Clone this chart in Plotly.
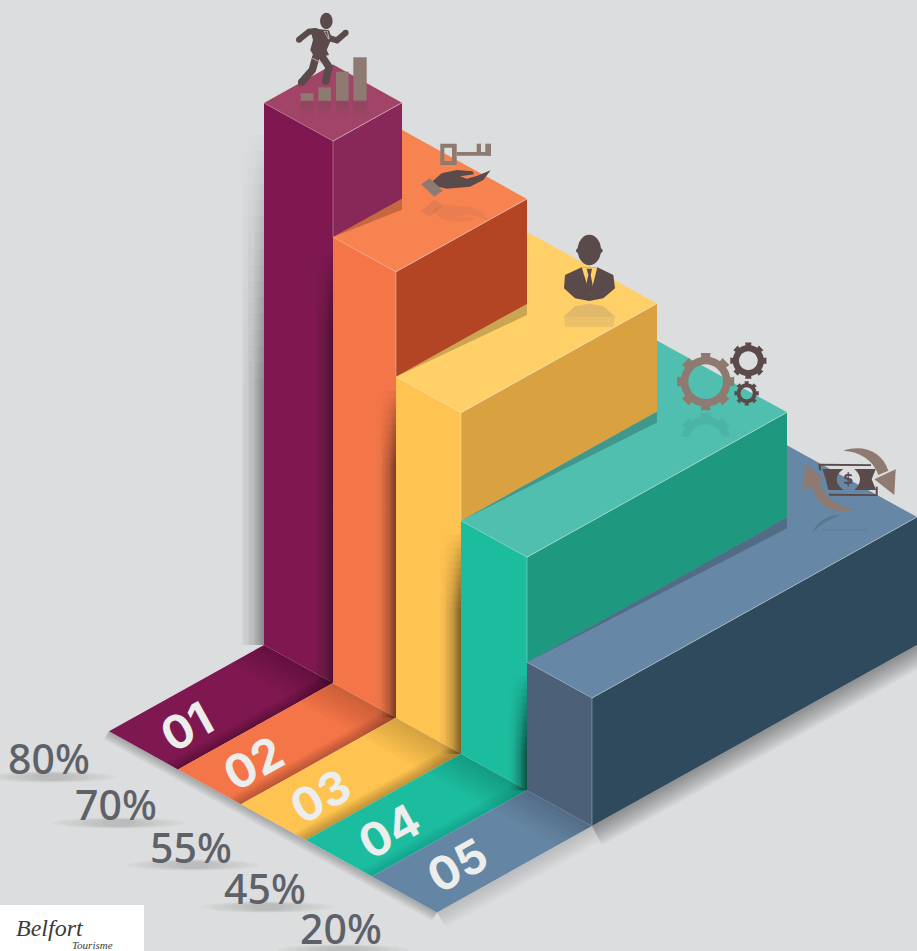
import math
import plotly.graph_objects as go

# ---------- data ----------
categories = ["01", "02", "03", "04", "05"]
percent_labels = ["80%", "70%", "55%", "45%", "20%"]
bar_heights = [542, 446, 341, 233, 128]
bar_widths = [69, 63, 65, 66, 65]
bar_depths = [69, 131, 196, 260, 325]

# ---------- style ----------
BG = "#dcddde"
FRONT = ["#7f1850", "#f47548", "#fec350", "#1cbc9f", "#4c6078"]
RIGHT = ["#882858", "#b34525", "#d9a13f", "#1f9880", "#2f4a5d"]
TOP = ["#a24468", "#f78351", "#fed067", "#50bfb0", "#6687a5"]
FLOOR = ["#7f1850", "#f47548", "#fec350", "#1cbc9f", "#6486a4"]
DARK = "#5a4a4a"
TAUPE = "#8e7a70"
TXT = "#5e6268"

X0, Y0, SW, SD, FLOOR_LEN = 264, 645, 0.552, 0.557, 155


def pt(s, d, h):
    return (X0 + s + d, Y0 + s * SW - d * SD - h)


fig = go.Figure()


def poly(pts, color, opacity=1.0):
    xs = [p[0] for p in pts] + [pts[0][0]]
    ys = [p[1] for p in pts] + [pts[0][1]]
    fig.add_trace(go.Scatter(x=xs, y=ys, mode="lines", fill="toself", fillcolor=color,
                             opacity=opacity, line=dict(width=0), hoverinfo="skip", showlegend=False))


def seg(a, b, color, opacity=0.45, width=1):
    fig.add_trace(go.Scatter(x=[a[0], b[0]], y=[a[1], b[1]], mode="lines", opacity=opacity,
                             line=dict(color=color, width=width), hoverinfo="skip", showlegend=False))


def band(p0, p1, vec, color="#000000", alpha=0.3, n=7):
    for i in range(1, n + 1):
        f = i / n
        poly([p0, p1, (p1[0] + vec[0] * f, p1[1] + vec[1] * f), (p0[0] + vec[0] * f, p0[1] + vec[1] * f)],
             color, alpha / n)


def vshadow(x, y_top, y_bot, width, alpha, fade=70, steps=8):
    # horizontal gradient towards the edge x, built up gradually over the first `fade` px from the top
    a = alpha / steps
    for i in range(steps):
        yt = y_top + fade * i / steps
        fig.add_trace(go.Scatter(
            x=[x - width, x, x, x - width, x - width], y=[yt, yt, y_bot, y_bot, yt], mode="lines",
            line=dict(width=0), fill="toself", hoverinfo="skip", showlegend=False,
            fillgradient=dict(type="horizontal", start=x - width, stop=x,
                              colorscale=[[0, "rgba(0,0,0,0)"], [0.35, f"rgba(0,0,0,{a*0.07:.4f})"],
                                          [0.7, f"rgba(0,0,0,{a*0.4:.4f})"], [1, f"rgba(0,0,0,{a:.4f})"]])))


cum = [0]
for w in bar_widths:
    cum.append(cum[-1] + w)
N = len(categories)

# outer soft shadows on the backdrop
vshadow(pt(0, 0, 0)[0], pt(0, 0, 510)[1], pt(0, 0, 0)[1], 34, 0.48, fade=260, steps=16)
band(pt(0, -FLOOR_LEN, 0), pt(cum[N], -FLOOR_LEN, 0), (-5, 8), alpha=0.25, n=5)
band(pt(cum[N], -FLOOR_LEN, 0), pt(cum[N], 0, 0), (9, 15), alpha=0.14, n=7)
band(pt(cum[N], 0, 0), pt(cum[N], bar_depths[-1], 0), (10, 19), alpha=0.38, n=9)

# floor strips
for k in range(N):
    sL, sR = cum[k], cum[k + 1]
    a, b, c, e = pt(sL, 0, 0), pt(sR, 0, 0), pt(sR, -FLOOR_LEN, 0), pt(sL, -FLOOR_LEN, 0)
    poly([a, b, c, e], FLOOR[k])
    band(a, b, (-34, 19), alpha=0.16, n=8)
    if k < N - 1:
        band(b, c, (-12, -6.6), alpha=0.24 if k < 3 else 0.10, n=8)

# bars, back to front
for k in range(N - 1, -1, -1):
    sL, sR, d, h = cum[k], cum[k + 1], bar_depths[k], bar_heights[k]
    nh = bar_heights[k + 1] if k < N - 1 else 0
    sB = sL - (bar_widths[k - 1] if k > 0 else 0)
    poly([pt(sR, 0, h), pt(sR, d, h), pt(sB, d, h), pt(sB, 0, h)], TOP[k])
    if k < N - 1:
        rb = pt(sR, d, nh)
        poly([pt(sR, 0, nh), rb, (rb[0], rb[1] + 11)], "#000000", 0.2)
    poly([pt(sR, 0, h), pt(sR, d, h), pt(sR, d, nh), pt(sR, 0, nh)], RIGHT[k])
    poly([pt(sL, 0, 0), pt(sR, 0, 0), pt(sR, 0, h), pt(sL, 0, h)], FRONT[k])
    if k < N - 1:
        x_edge, y_bot = pt(sR, 0, 0)
        vshadow(x_edge, pt(sR, 0, nh)[1] + 14, y_bot, [28, 24, 26, 22][k], [0.48, 0.68, 0.68, 0.82][k], fade=80, steps=12)
    seg(pt(sR, 0, h), pt(sR, d, h), "#ffffff", 0.45)
    seg(pt(sR, 0, h), pt(sL, 0, h), "#ffffff", 0.22)
    seg(pt(sR, 0, h), pt(sR, 0, nh), "#ffffff", 0.3)

# percent labels
pct_x = [49, 116, 191, 265, 341]
pct_y = [764, 810, 853, 894, 934]
fig.add_trace(go.Scatter(x=pct_x, y=pct_y, mode="text", text=percent_labels, textposition="middle center",
                         textfont=dict(family="Noto Sans", size=41, color=TXT, weight=500),
                         hoverinfo="skip", showlegend=False))

shapes = []


def fmt(p):
    return f"{p[0]:.1f},{p[1]:.1f}"


def path_of(*rings):
    return " ".join("M" + " L".join(fmt(p) for p in r) + " Z" for r in rings)


def add_path(path, color, opacity=1.0):
    shapes.append(dict(type="path", path=path, fillcolor=color, opacity=opacity, line=dict(width=0),
                       xref="x", yref="y", layer="above"))


def add_stroke(points, color, width, opacity=1.0):
    shapes.append(dict(type="path", path="M" + " L".join(fmt(p) for p in points), opacity=opacity,
                       line=dict(color=color, width=width), xref="x", yref="y", layer="above"))


def add_ellipse(cx, cy, rx, ry, color, opacity=1.0, layer="above"):
    shapes.append(dict(type="circle", x0=cx - rx, x1=cx + rx, y0=cy - ry, y1=cy + ry, fillcolor=color,
                       opacity=opacity, line=dict(width=0), xref="x", yref="y", layer=layer))


# shadows under percent labels
shadow_y = [777, 823, 865, 907, 950]
for cx, cy in zip(pct_x, shadow_y):
    for f in (1.0, 0.85, 0.7, 0.55, 0.4, 0.25):
        add_ellipse(cx + 2, cy, 66 * f, 5.5 * (0.5 + f / 2), "#70757c", 0.06, layer="below")


def z1(x, y):
    return (250 + x / 3, y / 3)


def z2(x, y):
    return (540 + x / 3, 220 + y / 3)


def zr(x, y):
    return (285 + x / 3, 5 + y / 3)


def zm(x, y):
    return (795 + x / 3, 440 + y / 3)


def flip(pts, axis, squash=1.0, ymax=None):
    out = []
    for x, y in pts:
        ny = axis + (axis - y) * squash
        if ymax is not None:
            ny = min(ny, ymax)
        out.append((x, ny))
    return out


def rect(x0, y0, x1, y1):
    return [(x0, y0), (x1, y0), (x1, y1), (x0, y1)]


# runner
hd = zr(124, 48)
add_ellipse(hd[0], hd[1], 6.3, 8.3, DARK)
add_path(path_of([zr(*p) for p in [(78, 82), (100, 72), (132, 76), (140, 100), (125, 135), (132, 150), (90, 160), (76, 135), (84, 105)]]), DARK)
for pts_, wd in (([(42, 104), (72, 80), (92, 78)], 6), ([(135, 100), (156, 106), (182, 83)], 6),
                 ([(92, 158), (82, 195), (50, 232)], 7.5), ([(108, 150), (132, 186), (122, 228)], 7.5)):
    add_stroke([zr(*p) for p in pts_], DARK, wd)
    e = zr(*pts_[0]); add_ellipse(e[0], e[1], wd / 2, wd / 2, DARK)
    e = zr(*pts_[-1]); add_ellipse(e[0], e[1], wd / 2, wd / 2, DARK)
add_path(path_of([zr(*p) for p in [(116, 78), (128, 78), (134, 100), (130, 104)]]), "#b9aeaa")
add_path(path_of([zr(*p) for p in [(120, 80), (126, 80), (130, 100)]]), DARK)
add_stroke([zr(82, 160), zr(112, 175)], "#c7a6b0", 1.2, 0.8)
# small bars
bars_icon = [(152, 190, 280), (205, 243, 262), (258, 296, 215), (310, 350, 172)]
for x0, x1, yt in bars_icon:
    add_path(path_of([z1(x0, yt), z1(x1, yt), z1(x1, 302), z1(x0, 302)]), TAUPE)
    for j, o in enumerate((0.28, 0.16, 0.08)):
        add_path(path_of([z1(x0, 306 + j * 14), z1(x1, 306 + j * 14), z1(x1, 320 + j * 14), z1(x0, 320 + j * 14)]), DARK, o * 0.8)

# key and hand
add_path(path_of([z1(*p) for p in rect(571, 431, 620, 495)], [z1(*p) for p in rect(583, 443, 606, 483)]), TAUPE)
add_path(path_of([z1(*p) for p in rect(620, 456, 723, 467)]), TAUPE)
add_path(path_of([z1(*p) for p in rect(680, 431, 693, 456)]), TAUPE)
add_path(path_of([z1(*p) for p in rect(706, 431, 723, 467)]), TAUPE)
hand = [z1(*p) for p in [(548, 543), (575, 520), (620, 510), (668, 514), (672, 523), (630, 529), (650, 536), (680, 528), (722, 511), (700, 540), (660, 560), (590, 566), (556, 558)]]
cuff = [z1(*p) for p in [(513, 553), (540, 535), (578, 572), (553, 590)]]
add_path(path_of(hand), DARK)
add_path(path_of(cuff), TAUPE)
add_path(path_of(flip(hand, z1(0, 592)[1], 0.9)), DARK, 0.08)
add_path(path_of(flip(cuff, z1(0, 595)[1], 0.9)), DARK, 0.12)

# businessman
body = [z2(*p) for p in [(72, 205), (75, 165), (125, 142), (172, 142), (220, 165), (225, 205), (190, 235), (148, 243), (105, 235)]]
vee = [z2(*p) for p in [(125, 142), (172, 142), (151, 226)]]
tie = [z2(*p) for p in [(140, 146), (156, 146), (152, 165), (162, 216), (148, 226), (134, 216), (145, 165)]]
add_path(path_of(flip(body, z2(0, 247)[1], 1.0, z2(0, 320)[1])), "#a38a70", 0.22)
add_path(path_of(flip(body, z2(0, 247)[1], 1.0, z2(0, 290)[1])), "#a38a70", 0.12)
add_ellipse(*z2(148, 90), 35 / 3, 46 / 3, DARK)
add_ellipse(*z2(148, 92), 40 / 3, 14 / 3, DARK)
add_path(path_of(body), DARK)
add_path(path_of(vee), TOP[2])
add_path(path_of(tie), DARK)


def gear(cx, cy, r_in, r, R, teeth, tw):
    outer = []
    step = 2 * math.pi / teeth
    for i in range(teeth):
        a = i * step - math.pi / 2
        for da, rad in ((-step / 2, r), (-tw / R, r), (-tw / R, R), (tw / R, R), (tw / R, r)):
            outer.append((cx + rad * math.cos(a + da), cy + rad * math.sin(a + da)))
    inner = [(cx + r_in * math.cos(i * math.pi / 20), cy + r_in * math.sin(i * math.pi / 20)) for i in range(40)]
    return outer, inner


def add_gear(zx, zy, zin, zr_, zR, color, tw, teeth=8):
    c = z2(zx, zy)
    o, i = gear(c[0], c[1], zin / 3, zr_ / 3, zR / 3, teeth, tw)
    add_path(path_of(o, i), color)
    return o, i


# reflections of gears
for (zx, zy, zin, zr_, zR, lim, op) in [(497, 665, 52, 75, 87, 650, 0.14), (617, 680, 18, 30, 37, 640, 0.1)]:
    c = z2(zx, zy)
    o, i = gear(c[0], c[1], zin / 3, zr_ / 3, zR / 3, 8, 6 if zR > 50 else 3)
    ym = z2(0, lim)[1]
    add_path(path_of([(x, min(y, ym)) for x, y in o], [(x, min(y, ym)) for x, y in i]), "#2f6f68", op)
add_gear(497, 485, 52, 75, 87, TAUPE, 5)
add_gear(625, 422, 28, 47, 55, DARK, 3.2)
add_gear(620, 520, 18, 30, 37, DARK, 2.2)


def p(x, y):
    return fmt(zm(x, y))


# money with arrows
add_path(f"M{p(82,87)} L{p(145,87)} Q{p(105,118)} {p(145,150)} L{p(100,150)} L{p(92,118)} Z", DARK)
add_path(f"M{p(178,87)} L{p(242,87)} L{p(230,118)} L{p(243,150)} L{p(178,150)} Q{p(212,118)} {p(178,87)} Z", DARK)
add_path(path_of([zm(*q) for q in [(70, 71), (228, 73), (228, 78), (78, 77), (78, 92), (72, 90)]]), DARK)
add_path(path_of([zm(*q) for q in [(100, 161), (242, 163), (242, 140), (248, 140), (248, 168), (104, 167)]]), DARK)
add_path(f"M{p(145,32)} C{p(205,12)} {p(262,35)} {p(280,92)} L{p(250,105)} C{p(235,60)} {p(195,35)} {p(145,32)} Z", TAUPE)
add_path(f"M{p(182,207)} C{p(115,228)} {p(58,195)} {p(48,130)} L{p(72,120)} C{p(85,170)} {p(130,205)} {p(182,207)} Z", TAUPE)
add_path(path_of([zm(*q) for q in [(238, 118), (302, 88), (298, 165)]]), TAUPE)
add_path(path_of([zm(*q) for q in [(32, 72), (85, 118), (22, 152)]]), TAUPE)
add_path(f"M{p(140,225)} C{p(100,222)} {p(65,245)} {p(52,278)} C{p(80,250)} {p(110,235)} {p(140,225)} Z", "#3c5268", 0.3)
add_path(path_of([zm(*q) for q in [(85, 268), (215, 268), (215, 272), (85, 272)]]), "#3c5268", 0.12)

# logo panel
shapes.append(dict(type="rect", x0=0, x1=144, y0=905, y1=951, fillcolor="#ffffff", line=dict(width=0),
                   xref="x", yref="y", layer="above"))

annotations = []
factor = [0.72, 0.72, 0.70, 0.68, 0.66]
for k, cat in enumerate(categories):
    m = pt((cum[k] + cum[k + 1]) / 2, -factor[k] * FLOOR_LEN, 0)
    annotations.append(dict(x=m[0], y=m[1], xref="x", yref="y", text=f"<b>{cat}</b>", showarrow=False,
                            xanchor="center", yanchor="middle", textangle=-29,
                            font=dict(family="Inter", size=46, color="#eceeee")))
annotations.append(dict(x=50, y=928, xref="x", yref="y", text="<i>Belfort</i>", showarrow=False,
                        font=dict(family="Liberation Serif", size=24, color="#3b3b3b")))
annotations.append(dict(x=92, y=945, xref="x", yref="y", text="<i>Tourisme</i>", showarrow=False,
                        font=dict(family="Liberation Serif", size=11, color="#3b3b3b")))
c2 = zm(160, 118)
annotations.append(dict(x=c2[0], y=c2[1], xref="x", yref="y", text="<b>$</b>", showarrow=False,
                        font=dict(family="DejaVu Sans", size=15, color=DARK)))

fig.update_layout(
    width=917, height=951, margin=dict(l=0, r=0, t=0, b=0), autosize=False,
    paper_bgcolor=BG, plot_bgcolor=BG, showlegend=False,
    xaxis=dict(range=[0, 917], visible=False, fixedrange=True),
    yaxis=dict(range=[951, 0], visible=False, fixedrange=True),
    shapes=shapes, annotations=annotations,
)

post = """
document.documentElement.style.margin='0';document.body.style.margin='0';document.body.style.overflow='hidden';
"""
fig.write_html("out.html", post_script=post, config=dict(displayModeBar=False))
